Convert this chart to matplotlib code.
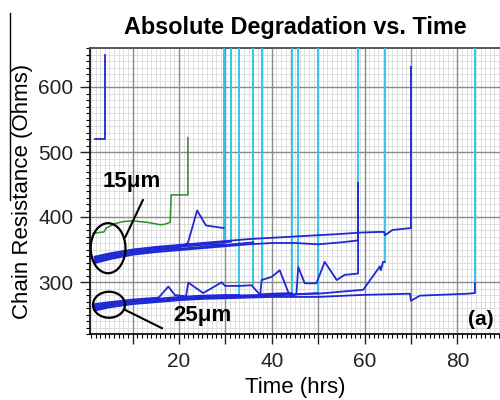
import matplotlib
matplotlib.use("Agg")
import matplotlib.pyplot as plt
from matplotlib.patches import Ellipse
from matplotlib.lines import Line2D
from matplotlib.ticker import MultipleLocator, FuncFormatter

plt.rcParams['font.family'] = ['Liberation Sans', 'DejaVu Sans']

# ---------------- data ----------------
# 15 um chains (upper bundle)
a_t = [1.8, 5, 10, 15, 20, 25, 30, 35, 40, 45, 50, 55, 59, 63, 64.2, 64.4, 66, 70, 70]
a_r = [339, 344, 350, 354, 357, 360, 363, 366, 368, 370, 372, 374, 376, 377, 377, 372, 380, 383, 631]

b_t = [1.8, 5, 10, 15, 20, 25, 30, 35, 40, 45, 50, 55, 58.6, 58.6]
b_r = [329, 335, 342, 346, 349, 352, 355, 358, 360, 360, 358, 361, 364, 452]

u1_t = [1.8, 5, 10, 15, 20, 25, 29.7]
u1_r = [335, 341, 347, 351, 354, 357, 358]

u2_t = [1.8, 5, 10, 15, 20, 25, 30, 31.2]
u2_r = [337, 343, 349, 353, 356, 359, 361, 362]

u3_t = [1.8, 5, 10, 15, 20, 25, 30, 36]
u3_r = [331, 337, 344, 348, 351, 354, 357, 361]

c_t = [1.8, 5, 10, 15, 20, 21.9, 23.9, 25.8, 29.6]
c_r = [333, 339, 346, 350, 353, 360, 410, 387, 383]

# 25 um chains (lower bundle)
l1_t = [1.8, 5, 10, 15, 20, 25, 30, 32.9]
l1_r = [264, 267, 271, 274, 277, 279, 280, 280]

l3_t = [1.8, 5, 10, 15, 20, 25, 30, 40, 49.9]
l3_r = [258, 262, 267, 270, 273, 275, 276, 279, 283]

g_t = [1.8, 5, 10, 15, 20, 25, 30, 40, 50, 54.7, 59.7, 61.5, 63, 63.3, 63.5, 64, 64.3]
g_r = [260, 263, 268, 271, 274, 276, 277, 280, 282, 285, 288, 306, 321, 324, 318, 331, 331]

l5_t = [1.8, 5, 10, 15, 20, 25, 30, 40, 50, 59, 69.8, 70, 71.9, 82.3, 83.8, 83.8]
l5_r = [256, 261, 266, 269, 272, 274, 275, 277, 277, 280, 282, 271, 279, 282, 283, 298]

z1_t = [1.8, 5, 10, 15.6, 17.7, 19.1, 21.5, 22, 25.2, 29.2, 29.9, 33.1, 35.6, 37.4, 40, 44.3]
z1_r = [266, 269, 273, 276, 293, 280, 278, 299, 283, 299.5, 294, 294, 295, 281, 282, 283]

z2_t = [1.8, 5, 10, 15, 20, 25, 30, 37.5, 37.8, 40, 41.7, 43.9, 45.3, 45.7, 47.1, 49.6,
        50.6, 51.4, 54, 55.7, 58.6, 58.6]
z2_r = [262, 265, 270, 273, 276, 278, 279, 280, 303, 308, 318, 278, 281, 323, 298, 298,
        316, 331, 303, 311, 313, 452]

# one chain of the 15 um group that stopped early (green)
green_t = [1.5, 3.8, 4.3, 6.2, 8, 10, 13, 16, 17, 18.1, 18.3, 21.9, 21.9]
green_r = [375, 377, 383, 390, 393, 394, 392, 388, 389, 392, 434, 434, 522]

# short early chain
early_t = [1.9, 4.0, 4.0]
early_r = [520, 520, 650]

# open-circuit failures (cyan verticals): time and resistance where they start
fail_t = [29.7, 31.2, 32.9, 35.9, 37.9, 44.3, 45.7, 49.9, 58.6, 64.3, 83.8]
fail_r = [357, 363, 280, 295, 303, 277, 323, 283, 452, 331, 298]

x_ticklabels = [20, 40, 60, 80]
y_ticklabels = [300, 400, 500, 600]

# ---------------- figure ----------------
fig = plt.figure(figsize=(5, 4), dpi=100)
ax = fig.add_axes([0.18, 0.165, 0.82, 0.715])

blue = '#2028d4'
cyan = '#33c6ea'
green = '#2e8b2e'

xlo, xhi, ylo, yhi = 0.8, 89.2, 220, 660

# grid drawn by hand so that the major lines sit above the minor ones
for v in range(1, 90):
    ax.axvline(v, color='#dadada', lw=0.6, zorder=0.5)
for v in range(220, 661, 10):
    ax.axhline(v, color='#dadada', lw=0.6, zorder=0.5)
for v in range(10, 90, 10):
    ax.axvline(v, color='#8a8a8a', lw=1.0, zorder=0.8)
for v in range(300, 661, 100):
    ax.axhline(v, color='#8a8a8a', lw=1.0, zorder=0.8)

for t, r in zip(fail_t, fail_r):
    ax.plot([t, t], [r, 800], color=cyan, lw=1.4, zorder=3)

blue_curves = [(a_t, a_r), (b_t, b_r), (u1_t, u1_r), (u2_t, u2_r), (u3_t, u3_r),
               (c_t, c_r), (l1_t, l1_r), (l3_t, l3_r), (g_t, g_r), (l5_t, l5_r),
               (z1_t, z1_r), (z2_t, z2_r), (early_t, early_r)]
for t, r in blue_curves:
    ax.plot(t, r, color=blue, lw=1.3, zorder=4)
ax.plot(green_t, green_r, color=green, lw=1.1, zorder=4)

ax.set_xlim(xlo, xhi)
ax.set_ylim(ylo, yhi)

ax.xaxis.set_major_locator(MultipleLocator(10))
ax.xaxis.set_minor_locator(MultipleLocator(1))
ax.yaxis.set_major_locator(MultipleLocator(100))
ax.yaxis.set_minor_locator(MultipleLocator(10))
ax.xaxis.set_major_formatter(FuncFormatter(
    lambda v, p: f"{int(round(v))}" if int(round(v)) in x_ticklabels else ""))
ax.yaxis.set_major_formatter(FuncFormatter(
    lambda v, p: f"{int(round(v))}" if int(round(v)) in y_ticklabels else ""))

ax.tick_params(which='major', direction='out', length=7, width=1, labelsize=15,
               colors='#222222')
ax.tick_params(which='minor', direction='out', length=3, width=0.8)
ax.tick_params(axis='x', pad=6)
ax.tick_params(axis='y', pad=5)

ax.spines['right'].set_visible(False)
ax.spines['top'].set_color('#555555')
ax.spines['top'].set_linewidth(1.4)
ax.spines['left'].set_linewidth(1.2)
ax.spines['bottom'].set_linewidth(1.2)

ax.set_title('Absolute Degradation vs. Time', fontsize=16.8, fontweight='bold', pad=10)
ax.set_xlabel('Time (hrs)', fontsize=16, labelpad=4)
ax.set_ylabel('Chain Resistance (Ohms)', fontsize=16, labelpad=4)

# annotations
ax.add_patch(Ellipse((4.7, 352), 7.5, 77, fill=False, ec='black', lw=1.6,
                     zorder=6, clip_on=False))
ax.add_patch(Ellipse((4.9, 265), 6.9, 40, fill=False, ec='black', lw=1.6,
                     zorder=6, clip_on=False))
ax.plot([8.4, 12.2], [369, 426], color='black', lw=1.5, zorder=6)
ax.plot([8.4, 16.3], [257, 229], color='black', lw=1.5, zorder=6)
ax.text(9.9, 455, '15μm', fontsize=16, fontweight='bold', ha='center', va='center', zorder=7)
ax.text(25.0, 249, '25μm', fontsize=16, fontweight='bold', ha='center', va='center', zorder=7)
ax.text(85.1, 243, '(a)', fontsize=15, fontweight='bold', ha='center', va='center', zorder=7)

fig.add_artist(Line2D([10 / 500, 10 / 500], [1 - 13 / 400, 1 - 200 / 400],
                      color='black', lw=1.0))

fig.savefig('out.png', dpi=100)
